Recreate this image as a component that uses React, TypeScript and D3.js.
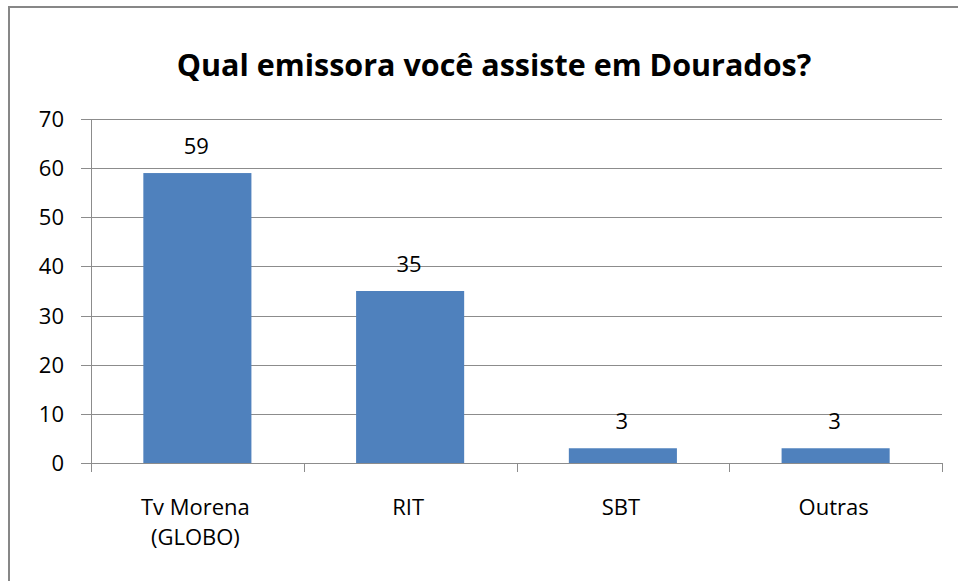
import React, { useEffect, useRef } from 'react'
import * as d3 from 'd3'

const categories = ['Tv Morena (GLOBO)', 'RIT', 'SBT', 'Outras']
const values = [59, 35, 3, 3]
const yTicks = [0, 10, 20, 30, 40, 50, 60, 70]
const title = 'Qual emissora você assiste em Dourados?'

const FONT = '"Open Sans", Lato, sans-serif'

const App = () => {
  const ref = useRef<SVGSVGElement>(null)

  useEffect(() => {
    const svg = d3.select(ref.current)
    svg.selectAll('*').remove()

    const width = 958
    const height = 581
    const left = 91
    const right = 942
    const top = 119
    const bottom = 463

    svg.attr('width', width).attr('height', height)

    svg.append('rect').attr('width', width).attr('height', height).attr('fill', '#fff')

    // outer chart frame (runs off the right / bottom of the image)
    svg.append('rect')
      .attr('x', 9).attr('y', 7)
      .attr('width', 980).attr('height', 620)
      .attr('fill', 'none')
      .attr('stroke', '#878787')
      .attr('stroke-width', 2)

    svg.append('text')
      .attr('x', 494).attr('y', 76)
      .attr('text-anchor', 'middle')
      .attr('font-family', FONT)
      .attr('font-weight', 'bold')
      .attr('font-size', 30.5)
      .attr('fill', '#000')
      .text(title)

    const x = d3.scaleBand().domain(categories).range([left, right]).paddingInner(0).paddingOuter(0)
    const y = d3.scaleLinear().domain([0, 70]).range([bottom, top])

    // gridlines + y ticks
    svg.append('g').selectAll('line')
      .data(yTicks)
      .join('line')
      .attr('x1', left - 10).attr('x2', right)
      .attr('y1', (d) => Math.round(y(d)) + 0.5).attr('y2', (d) => Math.round(y(d)) + 0.5)
      .attr('stroke', '#8c8c8c')
      .attr('stroke-width', 1)

    svg.append('g').selectAll('text')
      .data(yTicks)
      .join('text')
      .attr('x', 64)
      .attr('y', (d) => y(d) + 8)
      .attr('text-anchor', 'end')
      .attr('font-family', FONT)
      .attr('font-size', 22)
      .attr('fill', '#000')
      .text((d) => d)

    // y axis line
    svg.append('line')
      .attr('x1', left + 0.5).attr('x2', left + 0.5)
      .attr('y1', top).attr('y2', bottom + 9)
      .attr('stroke', '#8c8c8c')

    // x category ticks
    const bounds = categories.map((c) => x(c) as number).concat([right])
    svg.append('g').selectAll('line')
      .data(bounds.slice(1))
      .join('line')
      .attr('x1', (d) => Math.round(d) + 0.5).attr('x2', (d) => Math.round(d) + 0.5)
      .attr('y1', bottom).attr('y2', bottom + 9)
      .attr('stroke', '#8c8c8c')

    const barW = x.bandwidth() * 0.508

    svg.append('g').selectAll('rect')
      .data(values)
      .join('rect')
      .attr('x', (d, i) => (x(categories[i]) as number) + x.bandwidth() / 2 - barW / 2)
      .attr('y', (d) => y(d))
      .attr('width', barW)
      .attr('height', (d) => bottom - y(d))
      .attr('fill', '#4f81bd')

    svg.append('g').selectAll('text')
      .data(values)
      .join('text')
      .attr('x', (d, i) => (x(categories[i]) as number) + x.bandwidth() / 2 - 1)
      .attr('y', (d) => y(d) - 19)
      .attr('text-anchor', 'middle')
      .attr('font-family', FONT)
      .attr('font-size', 22)
      .attr('fill', '#000')
      .text((d) => d)

    // category labels (wrapped into two lines where needed)
    const lines = (c: string) => (c === 'Tv Morena (GLOBO)' ? ['Tv Morena', '(GLOBO)'] : [c])
    const labels = svg.append('g').selectAll('text')
      .data(categories)
      .join('text')
      .attr('text-anchor', 'middle')
      .attr('font-family', FONT)
      .attr('font-size', 22)
      .attr('fill', '#000')

    labels.each(function (c) {
      const t = d3.select(this)
      const cx = (x(c) as number) + x.bandwidth() / 2 - 2
      lines(c).forEach((l, i) => {
        t.append('tspan').attr('x', cx).attr('y', 515 + i * 30).text(l)
      })
    })
  }, [])

  return <svg ref={ref} style={{ display: 'block', position: 'absolute', left: 0, top: 0 }}></svg>
}

export default App
